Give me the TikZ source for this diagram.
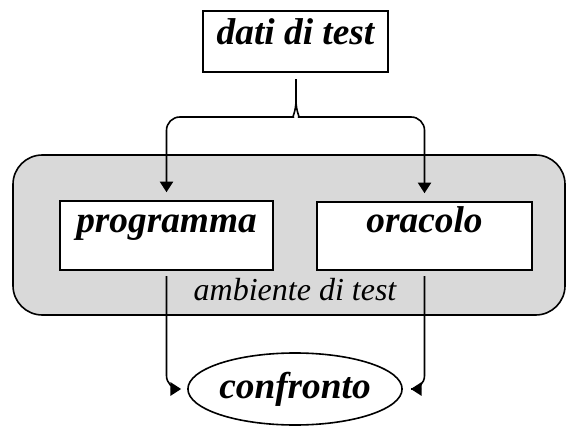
\documentclass[tikz,border=0pt]{standalone}
\usepackage{fontspec}
\setmainfont{Liberation Serif}
\usepackage{tikz}
\usetikzlibrary{arrows.meta,shapes,positioning}

\begin{document}
\begin{tikzpicture}[x=0.75pt, y=-0.75pt]

  \tikzset{TestBox/.style =
	{draw, fill=white, line width=1.2pt, inner sep=0pt,
	font=\fontsize{28}{32}\selectfont\bfseries\itshape}}
  \tikzset{EnvBox/.style =
	{draw, fill=gray!30, line width=1.2pt, rounded corners=22pt}}
  \tikzset{Link/.style =
	{line width=1.2pt, rounded corners=10pt}}
  \tikzset{LinkArrow/.style =
	{Link, -{Triangle[length=8pt,width=10pt]}}}
  \useasboundingbox (0,0) rectangle (566,427);
  \node[EnvBox, minimum width=414pt, minimum height=120pt] (env) at (289,235) {};
  \node[font=\fontsize{24}{28}\selectfont\itshape, anchor=base] (envlabel) at (295,300) {ambiente di test};
  \node[TestBox, minimum width=138.75pt, text height=25.5pt, text depth=20.25pt] (dati) at (295.5,41.5) {dati di test};
  \node[TestBox, minimum width=159.75pt, text height=24pt, text depth=27.75pt] (programma) at (166.5,235.5) {programma};
  \node[TestBox, minimum width=161.25pt, text height=23.25pt, text depth=27.75pt] (oracolo) at (424.5,236) {oracolo};
  \node[TestBox, ellipse, minimum width=138pt, minimum height=54pt] (confronto) at (295,389) {confronto};
  \coordinate (tip) at (296,100);
  \coordinate (fork) at (296,117);
  \draw[Link, shorten <=5pt] (dati.south -| tip) -- (tip);
  \draw[LinkArrow, shorten >=6pt] (tip) .. controls (296,112) and (292,117) .. (280,117)
	-- (programma.north |- fork) -- (programma.north);
  \draw[LinkArrow, shorten >=6pt] (tip) .. controls (296,112) and (300,117) .. (312,117)
	-- (oracolo.north |- fork) -- (oracolo.north);
  \draw[LinkArrow, shorten <=4pt, shorten >=4.5pt] (programma.south) |- (confronto.west);
  \draw[LinkArrow, shorten <=4pt, shorten >=6pt] (oracolo.south) |- (confronto.east);

\end{tikzpicture}
\end{document}
